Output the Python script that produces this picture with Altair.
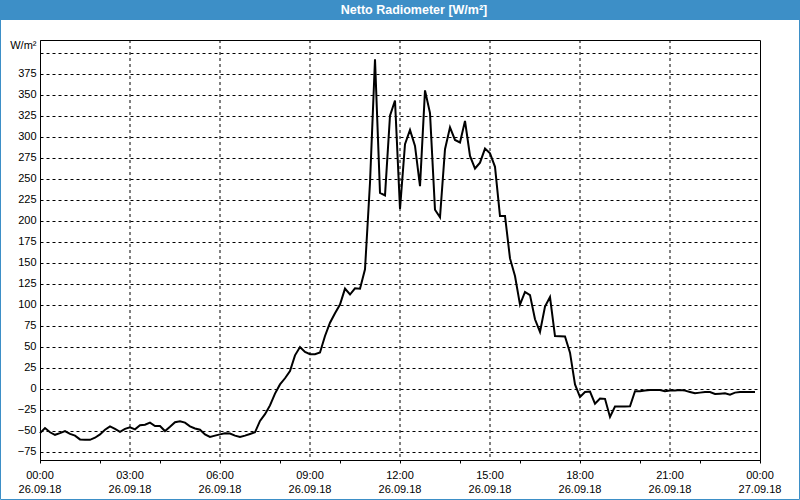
import altair as alt
import pandas as pd

# Net radiation, 10-minute values from 26.09.18 00:00 to 23:50 (W/m²)
values = [
    -53, -47, -52, -55, -53, -50.5, -54, -56, -60.5, -61,
    -61, -58.5, -54.5, -49, -45, -48, -51.5, -48, -46, -48.5,
    -43.7, -43, -40.5, -44.5, -44.5, -50.5, -45.5, -40, -39, -40.5,
    -45, -47.5, -49, -54.5, -57.6, -56, -54.5, -53.3, -53.5, -56,
    -57.6, -56, -54, -52, -38.5, -30.5, -20, -6, 5, 12.3,
    21, 39.6, 49.5, 43.6, 41, 41, 43, 62.6, 78.5, 89.6,
    100, 119, 112, 119.4, 119, 142, 245, 392, 233, 230,
    325, 343, 214, 291, 308, 289, 241, 355, 328, 213,
    204, 285, 311, 296, 293, 318.6, 277, 262, 269, 285.7,
    280, 264, 205.5, 205.5, 155, 134, 100, 115, 111.4, 82.5,
    67.4, 97.6, 109, 62.6, 62.3, 62, 42.8, 5, -10, -4,
    -3.5, -18, -11.8, -12.2, -33.8, -21.4, -21.4, -21.2, -21, -3.2,
    -3.2, -2.4, -1.6, -1.6, -1.6, -3.2, -2.4, -2.4, -1.6, -2.4,
    -4, -5.6, -4.8, -4, -4, -6.4, -6, -5.6, -7.2, -4.8,
    -4, -4, -4, -4,
]
times = pd.date_range("2018-09-26 00:00", periods=len(values), freq="10min").strftime("%Y-%m-%dT%H:%M:%S").tolist()

# x tick labels every 3 hours (two lines: time / date)
label_times = pd.date_range("2018-09-26 00:00", "2018-09-27 00:00", freq="3h").strftime("%Y-%m-%dT%H:%M:%S").tolist()
label_hours = ["00:00", "03:00", "06:00", "09:00", "12:00", "15:00", "18:00", "21:00", "00:00"]
label_dates = ["26.09.18"] * 8 + ["27.09.18"]
# hourly minor ticks
tick_hours = list(range(0, 25))

y_ticks = list(range(-75, 401, 25))
y_domain = [-85, 415]
title_text = "Netto Radiometer [W/m²]"
unit_label = "W/m²"

BLUE = "#3d8fc7"
FONT = "Liberation Sans"

df = pd.DataFrame({"time": times, "value": values})
lab_df = pd.DataFrame({"time": label_times, "hh": label_hours, "dd": label_dates})
grid_df = lab_df.iloc[1:-1]
deco = alt.Data(values=[{"k": 1}])

x_scale = alt.Scale(
    domain=[alt.DateTime(year=2018, month=9, date=26, hours=0),
            alt.DateTime(year=2018, month=9, date=27, hours=0)],
    nice=False,
)
tick_values = [alt.DateTime(year=2018, month=9, date=26 + h // 24, hours=h % 24) for h in tick_hours]

bar = alt.Chart(deco).mark_rect(color=BLUE).encode(
    x=alt.value(-40), x2=alt.value(760), y=alt.value(-40), y2=alt.value(-20)
)
border = alt.Chart(deco).mark_rect(fillOpacity=0, stroke=BLUE, strokeWidth=1).encode(
    x=alt.value(-39.5), x2=alt.value(759.5), y=alt.value(-39.5), y2=alt.value(459.5)
)
title_txt = alt.Chart(deco).mark_text(
    text=title_text, color="white", font=FONT, fontSize=12.5, fontWeight="bold",
    align="center", baseline="middle"
).encode(x=alt.value(374), y=alt.value(-30))

vgrid = alt.Chart(grid_df).mark_rule(color="black", strokeWidth=1, strokeDash=[3, 3]).encode(
    x=alt.X("time:T", scale=x_scale)
)

lab1 = alt.Chart(lab_df).mark_text(font=FONT, fontSize=11, color="black", align="center", baseline="middle").encode(
    x=alt.X("time:T", scale=x_scale), y=alt.value(436), text="hh:N"
)
lab2 = alt.Chart(lab_df).mark_text(font=FONT, fontSize=11, color="black", align="center", baseline="middle").encode(
    x=alt.X("time:T", scale=x_scale), y=alt.value(450), text="dd:N"
)

line = alt.Chart(df).mark_line(color="black", strokeWidth=2).encode(
    x=alt.X(
        "time:T",
        scale=x_scale,
        axis=alt.Axis(
            title=None, values=tick_values, labels=False, grid=False, tickSize=3,
        ),
    ),
    y=alt.Y(
        "value:Q",
        scale=alt.Scale(domain=y_domain, nice=False, zero=False),
        axis=alt.Axis(
            values=y_ticks, title=unit_label, titleAngle=0, titleX=-4, titleY=5,
            titleAlign="right", titleBaseline="middle",
            labelExpr="datum.value > 390 ? '' : datum.label",
            ticks=False, labelPadding=4,
            grid=True, gridColor="black", gridDash=[3, 3],
        ),
    ),
)

chart = alt.layer(bar, border, title_txt, vgrid, lab1, lab2, line).properties(
    width=720, height=420,
    autosize=alt.AutoSizeParams(type="none"),
    padding={"left": 40, "top": 40, "right": 40, "bottom": 40},
    background="white",
).configure_view(stroke="black", strokeWidth=1).configure_axis(
    labelFont=FONT, labelFontSize=11, labelColor="black",
    titleFont=FONT, titleFontSize=11, titleFontWeight="normal", titleColor="black",
    domainColor="black", tickColor="black",
)

chart.save("out.html", embed_options={"renderer": "svg", "actions": False})
